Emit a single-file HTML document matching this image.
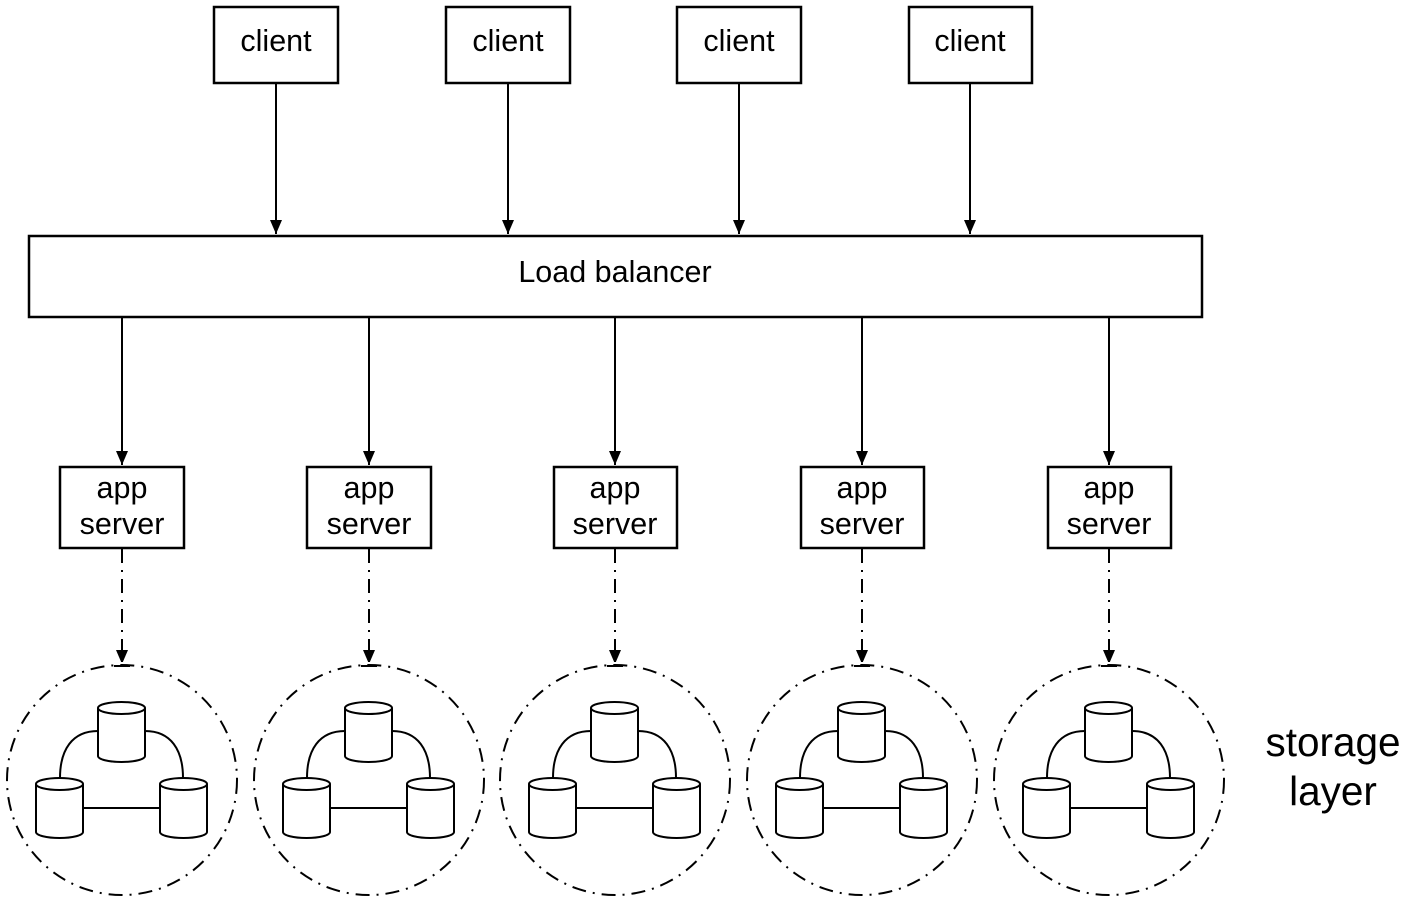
<!DOCTYPE html>
<html><head><style>body{margin:0;background:#fff}svg{display:block}text{font-family:"Liberation Sans",sans-serif;fill:#000}</style></head><body>
<svg width="1409" height="907" viewBox="0 0 1409 907" xmlns="http://www.w3.org/2000/svg">
<defs>
<marker id="a2" markerWidth="12" markerHeight="14" refX="14" refY="6" orient="auto" markerUnits="userSpaceOnUse"><path d="M0,0 L14,6 L0,12 z" fill="#000"/></marker>
<g id="cyl" fill="#fff" stroke="#000" stroke-width="2">
<path d="M0,6 V54 A23.5,6 0 0 0 47,54 V6"/>
<ellipse cx="23.5" cy="6" rx="23.5" ry="6"/>
</g>
<g id="cl">
<circle r="115" fill="none" stroke="#000" stroke-width="2" stroke-dasharray="14,7,2,7"/>
<path d="M-24,-49 C-50,-49 -62,-30 -62,-2 M23,-49 C49,-49 61,-30 61,-2 M-39,28 H38" fill="none" stroke="#000" stroke-width="2"/>
<use href="#cyl" x="-24" y="-78"/>
<use href="#cyl" x="-86" y="-2"/>
<use href="#cyl" x="38" y="-2"/>
</g>
</defs>
<g fill="#fff" stroke="#000" stroke-width="2.5">
<rect x="214" y="7" width="124" height="76"/><rect x="446" y="7" width="124" height="76"/><rect x="677" y="7" width="124" height="76"/><rect x="909" y="7" width="123" height="76"/>
<rect x="29" y="236" width="1173" height="81"/>
<rect x="60" y="467" width="124" height="81"/><rect x="307" y="467" width="124" height="81"/><rect x="554" y="467" width="123" height="81"/><rect x="801" y="467" width="123" height="81"/><rect x="1048" y="467" width="123" height="81"/>
</g>
<g stroke="#000" stroke-width="2" marker-end="url(#a2)">
<line x1="276" y1="83" x2="276" y2="234"/><line x1="508" y1="83" x2="508" y2="234"/><line x1="739" y1="83" x2="739" y2="234"/><line x1="970" y1="83" x2="970" y2="234"/>
<line x1="122" y1="317" x2="122" y2="465"/><line x1="369" y1="317" x2="369" y2="465"/><line x1="615" y1="317" x2="615" y2="465"/><line x1="862" y1="317" x2="862" y2="465"/><line x1="1109" y1="317" x2="1109" y2="465"/>
</g>
<g stroke="#000" stroke-width="2" stroke-dasharray="14,7,2,7" marker-end="url(#a2)">
<line x1="122" y1="549" x2="122" y2="664"/><line x1="369" y1="549" x2="369" y2="664"/><line x1="615" y1="549" x2="615" y2="664"/><line x1="862" y1="549" x2="862" y2="664"/><line x1="1109" y1="549" x2="1109" y2="664"/>
</g>
<g stroke="#000" stroke-width="2"><line x1="114" y1="666" x2="130" y2="666"/><line x1="361" y1="666" x2="377" y2="666"/><line x1="607" y1="666" x2="623" y2="666"/><line x1="854" y1="666" x2="870" y2="666"/><line x1="1101" y1="666" x2="1117" y2="666"/></g>
<use href="#cl" transform="translate(122,780)"/>
<use href="#cl" transform="translate(369,780)"/>
<use href="#cl" transform="translate(615,780)"/>
<use href="#cl" transform="translate(862,780)"/>
<use href="#cl" transform="translate(1109,780)"/>
<g font-size="30.5" text-anchor="middle">
<text x="276" y="51">client</text><text x="508" y="51">client</text><text x="739" y="51">client</text><text x="970" y="51">client</text>
<text x="615" y="282">Load balancer</text>
<text x="122" y="498">app</text><text x="122" y="534">server</text>
<text x="369" y="498">app</text><text x="369" y="534">server</text>
<text x="615" y="498">app</text><text x="615" y="534">server</text>
<text x="862" y="498">app</text><text x="862" y="534">server</text>
<text x="1109" y="498">app</text><text x="1109" y="534">server</text>
</g>
<g font-size="40.5" text-anchor="middle"><text x="1333" y="756">storage</text><text x="1333" y="805">layer</text></g>
</svg>
</body></html>
